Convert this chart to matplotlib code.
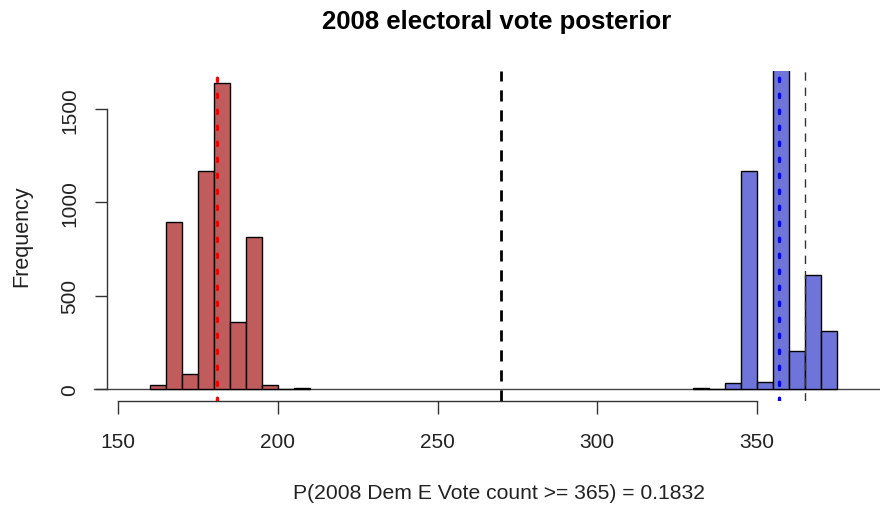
import numpy as np
import matplotlib.pyplot as plt

plt.rcParams['font.family'] = ['Liberation Sans', 'DejaVu Sans']

# histogram counts (bin width 5)
bin_width = 5
rep_left = [160, 165, 170, 175, 180, 185, 190, 195, 200, 205]
rep_counts = [20, 896, 80, 1166, 1639, 359, 816, 21, 0, 5]
dem_left = [330, 335, 340, 345, 350, 355, 360, 365, 370]
dem_counts = [5, 0, 32, 1166, 39, 2640, 202, 609, 309]

rep_mean = 181
dem_mean = 357
win_line = 270
threshold = 365
prob = 0.1832

title = "2008 electoral vote posterior"
xlabel = "P(2008 Dem E Vote count >= %d) = %.4f" % (threshold, prob)
xticks = [150, 200, 250, 300, 350]
yticks = [0, 500, 1000, 1500]

W, H = 880, 506
fig = plt.figure(figsize=(W / 100, H / 100), dpi=100)
# plot region in pixels: left 107, right edge cut by the picture, top 72, bottom 402
ax = fig.add_axes([107 / W, (H - 402) / H, (W - 107) / W, (402 - 72) / H])

ax.bar(rep_left, rep_counts, width=bin_width, align='edge',
       color='#C05C5C', edgecolor='black', linewidth=1.0, zorder=2)
ax.bar(dem_left, dem_counts, width=bin_width, align='edge',
       color='#6F74DB', edgecolor='black', linewidth=1.0, zorder=2)

ymax = max(rep_counts)
ax.set_ylim(-0.04 * ymax, 1.04 * ymax)
px = 3.195  # pixels per vote
ax.set_xlim(150 - 11 / px, 150 + (W - 118) / px)

# zero line, runs a bit past the y axis
ax.plot([150 - 24 / px, 400], [0, 0], color='#444444', lw=1.0,
        clip_on=False, zorder=1)

ax.axvline(win_line, color='black', lw=2.0, linestyle=(0, (4, 3.2)), zorder=3)
ax.axvline(threshold, color='#333333', lw=1.0, linestyle=(0, (6, 5)), zorder=3)
ax.axvline(rep_mean, color='red', lw=2.4, linestyle=(0, (1, 3.8)),
           dash_capstyle='round', zorder=4)
ax.axvline(dem_mean, color='blue', lw=2.4, linestyle=(0, (1, 3.8)),
           dash_capstyle='round', zorder=4)

for s in ['top', 'right']:
    ax.spines[s].set_visible(False)
ax.spines['left'].set_bounds(0, 1500)
ax.spines['bottom'].set_bounds(150, 350)
for s in ['left', 'bottom']:
    ax.spines[s].set_color('#333333')
    ax.spines[s].set_linewidth(1.0)

ax.set_xticks(xticks)
ax.set_yticks(yticks)
ax.set_yticklabels([str(v) for v in yticks], rotation=90, va='center')
ax.tick_params(axis='both', length=9, width=1.0, color='#333333',
               labelsize=15, labelcolor='#222222')
ax.tick_params(axis='x', pad=13)
ax.tick_params(axis='y', pad=11)

fig.text(497 / W, 1 - 22 / H, title, ha='center', va='center',
         fontsize=18.5, fontweight='bold')
fig.text(499 / W, 1 - 494 / H, xlabel, ha='center', va='center',
         fontsize=15.2, color='#222222')
fig.text(22 / W, 1 - 236 / H, "Frequency", ha='center', va='center',
         rotation=90, fontsize=15.5, color='#222222')

fig.savefig('out.png', dpi=100)
